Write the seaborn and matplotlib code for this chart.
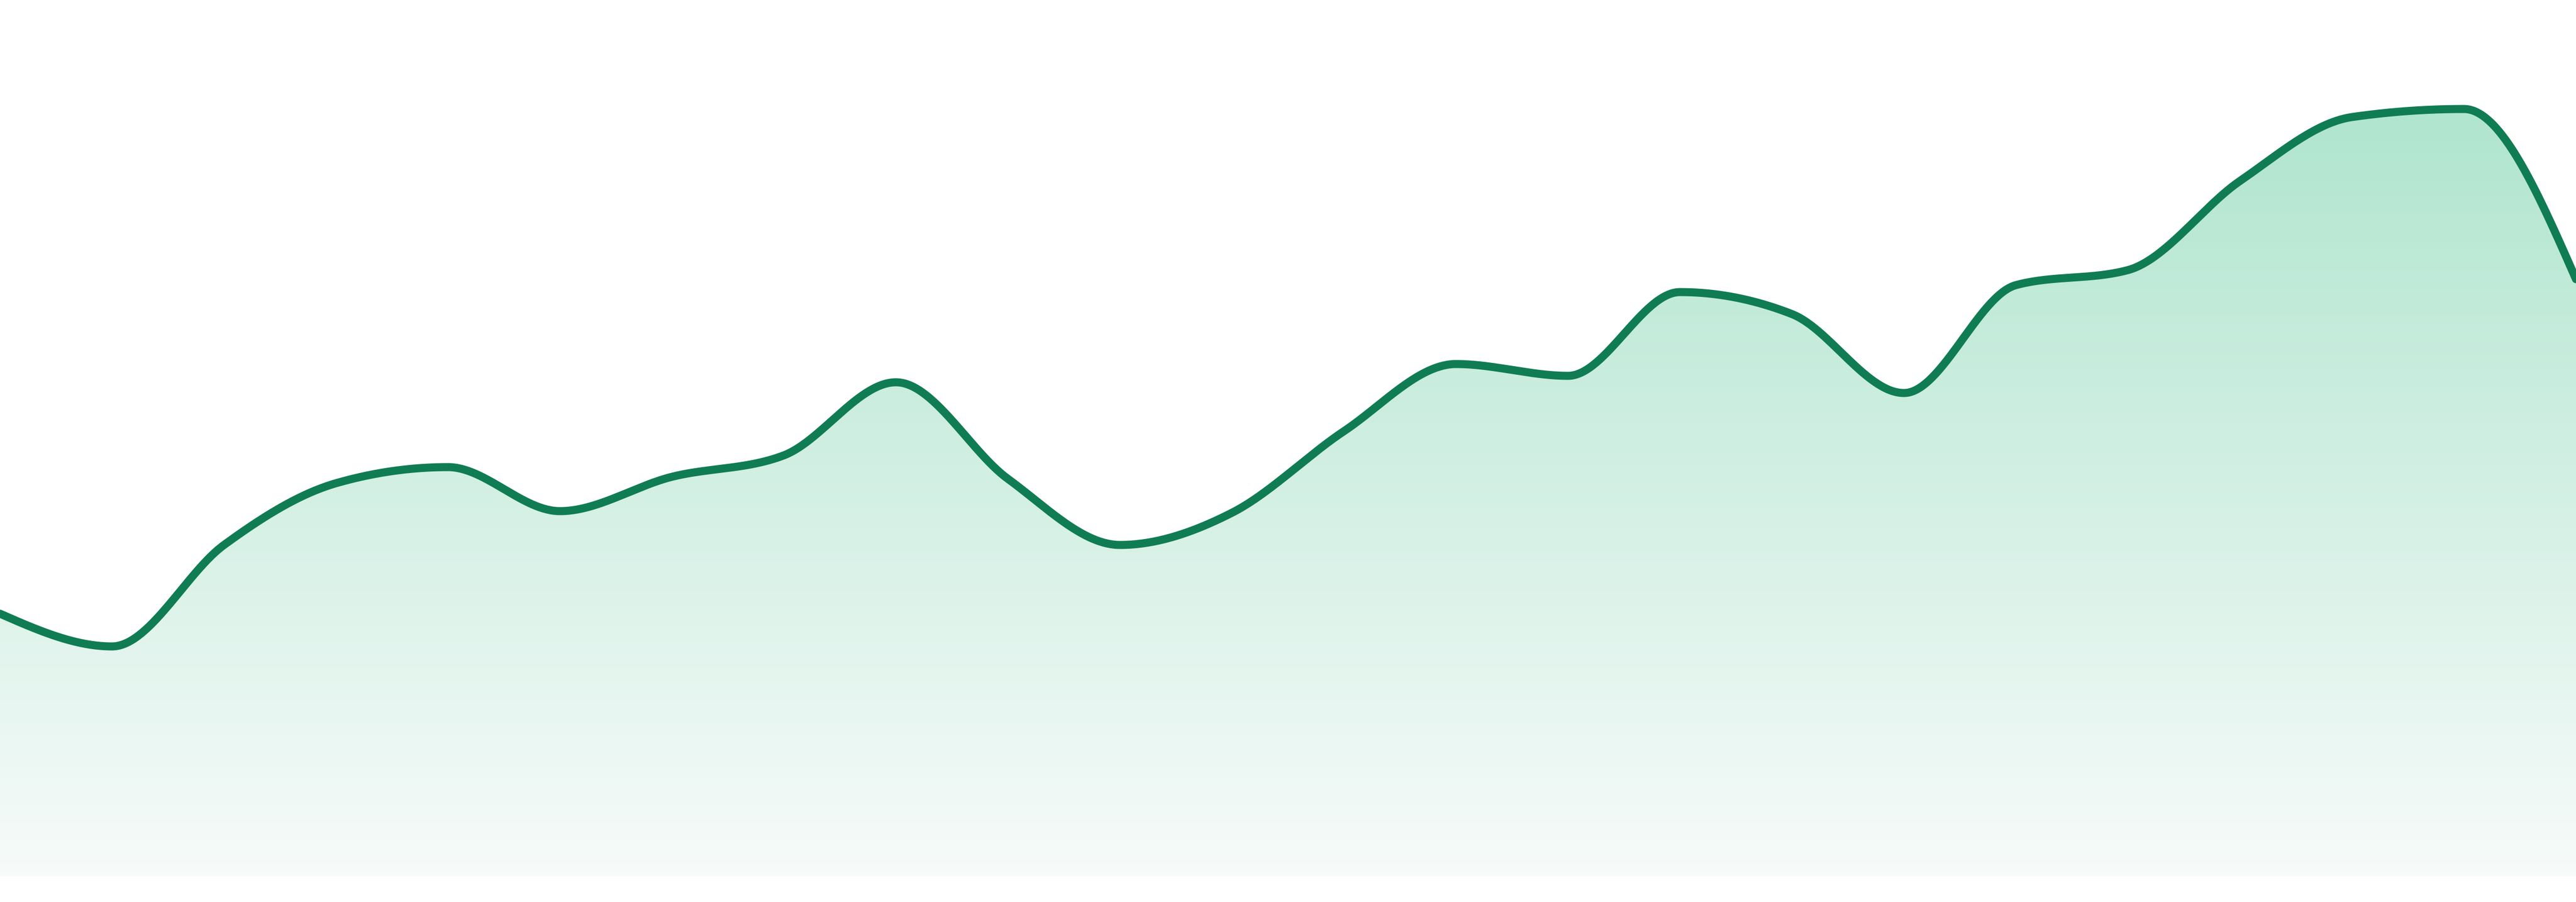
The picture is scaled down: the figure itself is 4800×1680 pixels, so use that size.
import numpy as np
import pandas as pd
import seaborn as sns
import matplotlib.pyplot as plt
from matplotlib.colors import LinearSegmentedColormap

# values, 24 evenly spaced points
values = [48.9, 42.8, 61.7, 73.2, 76.2, 68.0, 74.4, 78.4, 92.0, 74.0, 61.7, 67.7,
          82.9, 95.4, 93.2, 108.8, 104.7, 90.0, 110.1, 112.9, 129.5, 141.4, 142.9, 111.2]
steps = list(range(len(values)))

line_color = "#107c54"
fill_top = "#b0e5cf"
fill_bottom = "#f7fbfa"


def monotone_x(x, y, n=60):
    # same smoothing as d3.curveMonotoneX
    x = np.asarray(x, float)
    y = np.asarray(y, float)
    h = np.diff(x)
    s = np.diff(y) / h
    t = np.zeros_like(y)
    for i in range(1, len(y) - 1):
        p = (s[i - 1] * h[i] + s[i] * h[i - 1]) / (h[i - 1] + h[i])
        t[i] = (np.sign(s[i - 1]) + np.sign(s[i])) * min(abs(s[i - 1]), abs(s[i]), 0.5 * abs(p))
    t[0] = (3 * s[0] - t[1]) / 2
    t[-1] = (3 * s[-1] - t[-2]) / 2
    xs, ys = [], []
    for i in range(len(y) - 1):
        u = np.linspace(0, 1, n, endpoint=(i == len(y) - 2))
        h00 = 2 * u**3 - 3 * u**2 + 1
        h10 = u**3 - 2 * u**2 + u
        h01 = -2 * u**3 + 3 * u**2
        h11 = u**3 - u**2
        xs.append(x[i] + u * h[i])
        ys.append(h00 * y[i] + h10 * h[i] * t[i] + h01 * y[i + 1] + h11 * h[i] * t[i + 1])
    return np.concatenate(xs), np.concatenate(ys)


sx, sy = monotone_x(steps, values)
curve = pd.DataFrame({"step": sx, "value": sy})

sns.set_style("white")
fig = plt.figure(figsize=(48, 16.8), dpi=100)
ax = fig.add_axes([0, 0, 1, 1])

# gradient fill under the line
poly = ax.fill_between(curve["step"], curve["value"], 0, color="none", lw=0)
cmap = LinearSegmentedColormap.from_list("mint", [fill_bottom, fill_top])
grad = np.linspace(0, 1, 256).reshape(-1, 1)
img = ax.imshow(grad, cmap=cmap, aspect="auto", origin="lower",
                extent=[steps[0], steps[-1], 0, max(values)], zorder=1)
img.set_clip_path(poly.get_paths()[0], transform=ax.transData)

sns.lineplot(data=curve, x="step", y="value", color=line_color, lw=10.8,
             solid_capstyle="round", ax=ax, zorder=3, clip_on=True)

ax.set_xlim(steps[0], steps[-1])
ax.set_ylim(-4.8, 163.2)
ax.set_axis_off()

fig.savefig("out.png", dpi=100, facecolor="white")
